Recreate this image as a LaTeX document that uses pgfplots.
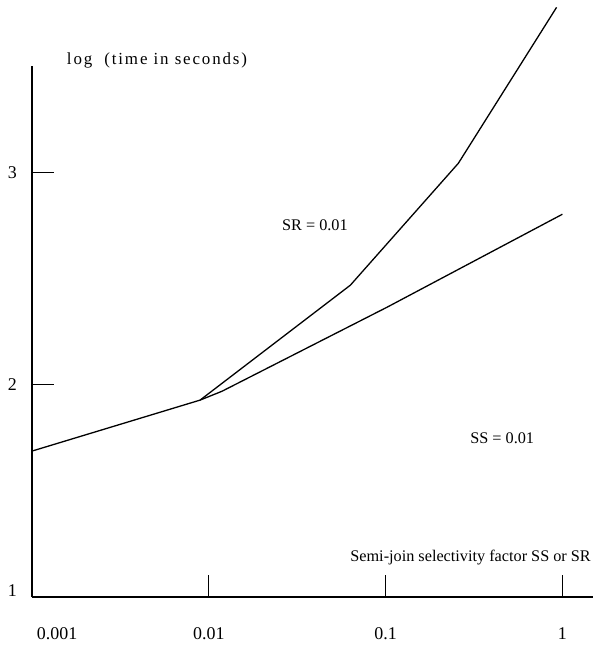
\documentclass[border=0pt]{standalone}
\usepackage{fontspec}
\setmainfont{Liberation Serif}
\usepackage{pgfplots}
\pgfplotsset{compat=1.18}
\begin{document}
\begin{tikzpicture}
\begin{axis}[
  scale only axis, width=561bp, height=531bp,
  xmode=log, xmin=0.001, xmax=1.49, ymin=1, ymax=3.5,
  axis x line=bottom, axis y line=left,
  axis line style={-, line width=1.1bp},
  xtick={0.001,0.01,0.1,1},
  xticklabels={\makebox[0pt][l]{\hspace*{5bp}0.001},0.01,0.1,1},
  ytick={1,2,3}, yticklabels={\raisebox{12bp}{1},2,3},
  xminorticks=false, yminorticks=false,
  tick align=inside,
  major tick length=22bp,
  tick style={black, line width=1.1bp},
  xticklabel style={inner sep=0pt, anchor=north, yshift=-30bp},
  yticklabel style={inner sep=0pt, anchor=east, xshift=-15bp},
  tick label style={font=\fontsize{18}{21}\selectfont},
  /pgf/number format/assume math mode=true,
  clip=false,
]
\addplot[black, line width=1.3bp] coordinates {
  (0.00893,1.927) (0.0632,2.468) (0.258,3.042) (0.927,3.776)
};
\addplot[black, line width=1.3bp] coordinates {
  (0.001,1.687) (0.00893,1.927) (0.0119,1.969) (0.1023,2.365) (1.0,2.802)
};
\node[anchor=base west, inner sep=0pt, font=\fontsize{17}{20}\selectfont\addfontfeatures{LetterSpace=11}] at (axis description cs:0.062,1.002) {log\hspace{12bp}(time in seconds)};
\node[anchor=base west, inner sep=0pt, font=\fontsize{16.3}{19}\selectfont] at (axis description cs:0.4456,0.6893) {SR = 0.01};
\node[anchor=base west, inner sep=0pt, font=\fontsize{16.3}{19}\selectfont] at (axis description cs:0.781,0.290) {SS = 0.01};
\node[anchor=base east, inner sep=0pt, font=\fontsize{16.3}{19}\selectfont] at (axis description cs:0.9964,0.0678) {Semi-join selectivity factor SS or SR};
\end{axis}
\path (current axis.south west) ++(-32bp,-50bp) rectangle ++(593bp,647bp);
\end{tikzpicture}
\end{document}
